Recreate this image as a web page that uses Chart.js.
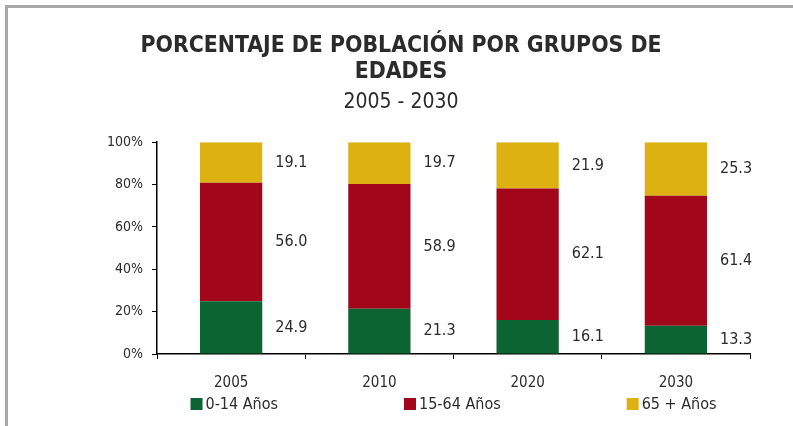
<!DOCTYPE html>
<html>
<head>
<meta charset="utf-8">
<script src="https://cdn.jsdelivr.net/npm/chart.js@4.4.1/dist/chart.umd.min.js"></script>
<style>
  html, body { margin: 0; padding: 0; background: #fff; }
  canvas { display: block; }
</style>
</head>
<body>
<canvas id="myChart" width="793" height="426"></canvas>
<script>
const years = ['2005', '2010', '2020', '2030'];
const grupo_0_14 = [24.9, 21.3, 16.1, 13.3];
const grupo_15_64 = [56.0, 58.9, 62.1, 61.4];
const grupo_65 = [19.1, 19.7, 21.9, 25.3];
const seriesNames = ['0-14 Años', '15-64 Años', '65 + Años'];
const yTicks = [0, 20, 40, 60, 80, 100];

const FONT = "'DejaVu Sans Condensed', 'DejaVu Sans', sans-serif";
const TXT = '#2b2b2b';

// 100% stacked like the spreadsheet: each column scaled to its own total
const totals = years.map((y, i) => grupo_0_14[i] + grupo_15_64[i] + grupo_65[i]);
const pct = arr => arr.map((v, i) => v / totals[i] * 100);

// frame line at the top / left
const framePlugin = {
    id: 'frame',
    beforeDraw(chart) {
        const c = chart.ctx;
        c.save();
        c.fillStyle = '#fff';
        c.fillRect(0, 0, chart.width, chart.height);
        c.strokeStyle = '#a8a8a8';
        c.lineWidth = 3;
        c.beginPath();
        c.moveTo(6.5, chart.height);
        c.lineTo(6.5, 6.5);
        c.lineTo(chart.width, 6.5);
        c.stroke();
        c.restore();
    }
};

// value next to each segment, right of the bar
const sideLabels = {
    id: 'sideLabels',
    afterDatasetsDraw(chart) {
        const c = chart.ctx;
        c.save();
        c.font = '16px ' + FONT;
        c.fillStyle = TXT;
        c.textAlign = 'left';
        c.textBaseline = 'middle';
        chart.data.datasets.forEach((ds, di) => {
            chart.getDatasetMeta(di).data.forEach((bar, i) => {
                const x = bar.x + bar.width / 2 + 13;
                const y = (bar.y + bar.base) / 2;
                c.fillText(ds.raw[i].toFixed(1), x, y);
            });
        });
        c.restore();
    }
};

// legend spread under the plot
const wideLegend = {
    id: 'wideLegend',
    afterDraw(chart) {
        const c = chart.ctx;
        const area = chart.chartArea;
        const gap = 126, box = 12;
        c.save();
        c.font = '16px ' + FONT;
        c.textBaseline = 'middle';
        const widths = chart.data.datasets.map(ds => box + 3 + c.measureText(ds.label).width);
        const total = widths.reduce((a, b) => a + b, 0) + gap * (widths.length - 1);
        let x = (area.left + area.right) / 2 - total / 2;
        const y = 404;
        chart.data.datasets.forEach((ds, i) => {
            c.fillStyle = ds.backgroundColor;
            c.fillRect(x, y - box / 2, box, box);
            c.fillStyle = TXT;
            c.fillText(ds.label, x + box + 3, y + 1);
            x += widths[i] + gap;
        });
        c.restore();
    }
};

const graph01 = document.getElementById('myChart').getContext('2d');

const myChart = new Chart(graph01, {
    type: 'bar',
    data: {
        labels: years,
        datasets: [{
            label: seriesNames[0],
            data: pct(grupo_0_14),
            raw: grupo_0_14,
            backgroundColor: '#0b6431',
        }, {
            label: seriesNames[1],
            data: pct(grupo_15_64),
            raw: grupo_15_64,
            backgroundColor: '#a1061a',
        }, {
            label: seriesNames[2],
            data: pct(grupo_65),
            raw: grupo_65,
            backgroundColor: '#ddb112',
        }]
    },
    options: {
        responsive: false,
        animation: false,
        categoryPercentage: 1,
        barPercentage: 0.42,
        layout: {
            padding: { left: 52, right: 43, top: 0, bottom: 32 }
        },
        plugins: {
            legend: { display: false },
            tooltip: { enabled: false },
            title: {
                display: true,
                text: ['PORCENTAJE DE POBLACIÓN POR GRUPOS DE', 'EDADES'],
                color: TXT,
                font: { family: FONT, size: 22.8, weight: 'bold', lineHeight: 1.14 },
                padding: { top: 33, bottom: 0 }
            },
            subtitle: {
                display: true,
                text: '2005 - 2030',
                color: TXT,
                font: { family: FONT, size: 21, lineHeight: 1.2 },
                padding: { top: 5, bottom: 27 }
            }
        },
        scales: {
            x: {
                stacked: true,
                grid: { display: true, drawOnChartArea: false, tickLength: 5, color: '#000', offset: true },
                border: { display: true, color: '#000', width: 1.5 },
                ticks: { color: TXT, font: { family: FONT, size: 15 }, padding: 15 },
                afterFit(scale) { scale.height = 40; }
            },
            y: {
                stacked: true,
                min: 0,
                max: 100,
                grid: { display: true, drawOnChartArea: false, tickLength: 5, color: '#000' },
                border: { display: true, color: '#000', width: 1.5 },
                afterBuildTicks(scale) { scale.ticks = yTicks.map(v => ({ value: v })); },
                ticks: {
                    color: TXT,
                    font: { family: FONT, size: 14 },
                    padding: 9,
                    callback: v => v + '%'
                },
                afterFit(scale) { scale.width = 105; }
            }
        }
    },
    plugins: [framePlugin, sideLabels, wideLegend]
});
</script>
</body>
</html>
